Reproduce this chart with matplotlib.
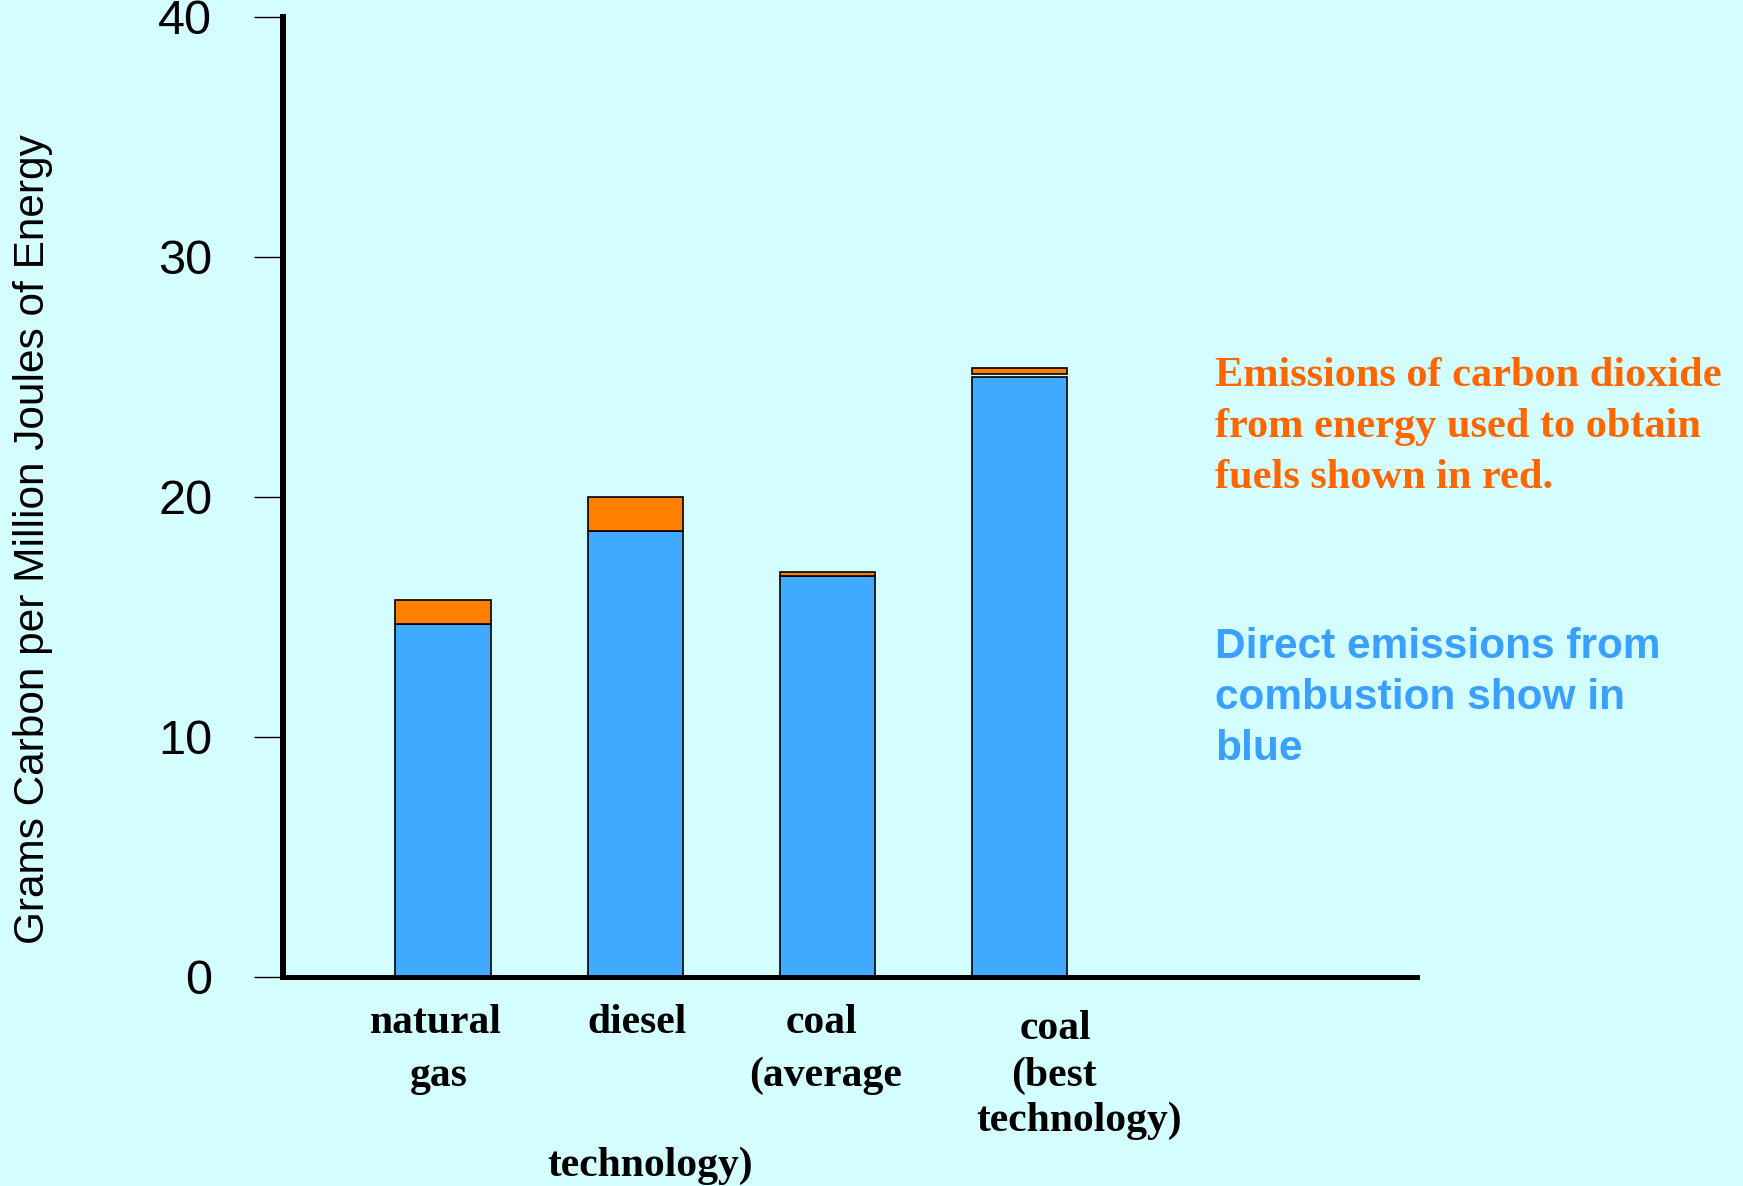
import matplotlib.pyplot as plt
import matplotlib.transforms as mtransforms

# data
fuels = ["natural gas", "diesel", "coal (average technology)", "coal (best technology)"]
direct = [14.7, 18.6, 16.7, 25.0]        # combustion (blue)
upstream = [1.0, 1.4, 0.18, 0.25]        # energy used to obtain fuel (orange)
gap = [0.0, 0.0, 0.0, 0.12]              # small gap above blue on last bar
yticks = [0, 10, 20, 30, 40]

# category label lines: (text, x offset in bar units, y in figure pixels from top)
label_lines = [
    [("natural", -0.04, 1023), ("gas", -0.02, 1076)],
    [("diesel", 0.01, 1023), ("technology)", 0.08, 1166)],
    [("coal", -0.03, 1023), ("(average", -0.01, 1076)],
    [("coal", 0.19, 1029), ("(best", 0.18, 1076), ("technology)", 0.31, 1121)],
]
red_note = ["Emissions of carbon dioxide", "from energy used to obtain", "fuels shown in red."]
blue_note = ["Direct emissions from", "combustion show in", "blue"]

bg = "#D4FEFE"
blue = "#3FAAFF"
orange = "#FF7F00"

W, H = 1743, 1186
fig = plt.figure(figsize=(W / 100, H / 100), dpi=100, facecolor=bg)
ax = fig.add_axes([283 / W, 1 - 977 / H, (1417 - 283) / W, (977 - 17) / H])
ax.set_facecolor(bg)

x = list(range(len(fuels)))
ax.bar(x, direct, width=0.495, color=blue, edgecolor="black", linewidth=1.2, zorder=2)
bottoms = [d + g for d, g in zip(direct, gap)]
ax.bar(x, upstream, width=0.495, bottom=bottoms, color=orange, edgecolor="black",
       linewidth=1.2, zorder=2)

ax.set_xlim(-0.833, 5.07)
ax.set_ylim(0, 40)
ax.set_yticks(yticks)
ax.set_yticklabels([str(t) for t in yticks], fontsize=35, family="Liberation Sans")
ax.tick_params(axis="y", direction="out", length=21, width=1.0, pad=30)
ax.set_xticks([])

for s in ["top", "right"]:
    ax.spines[s].set_visible(False)
ax.spines["left"].set_linewidth(4.3)
ax.spines["bottom"].set_linewidth(3.6)
ax.spines["bottom"].set_zorder(3)

fig.text(33 / W, 1 - 539 / H, "Grams Carbon per Million Joules of Energy",
         rotation=90, ha="center", va="center", fontsize=30.5, family="Liberation Sans")

# category labels under the axis
trans = mtransforms.blended_transform_factory(ax.transData, fig.transFigure)
for i, lines in enumerate(label_lines):
    for txt, dx, ypix in lines:
        ax.text(x[i] + dx, 1 - ypix / H, txt, transform=trans, ha="center", va="center",
                fontsize=30, fontweight="bold", family="Liberation Serif", color="black")

# explanatory notes on the right
for k, line in enumerate(red_note):
    fig.text(1215 / W, 1 - (376 + 51 * k) / H, line, ha="left", va="center",
             fontsize=30.5, fontweight="bold", family="Liberation Serif", color="#FF6600")
for k, line in enumerate(blue_note):
    fig.text(1215 / W, 1 - (647 + 51 * k) / H, line, ha="left", va="center",
             fontsize=30.5, fontweight="bold", family="Liberation Sans", color="#3AA0FF")

fig.savefig("out.png", dpi=100, facecolor=bg)
